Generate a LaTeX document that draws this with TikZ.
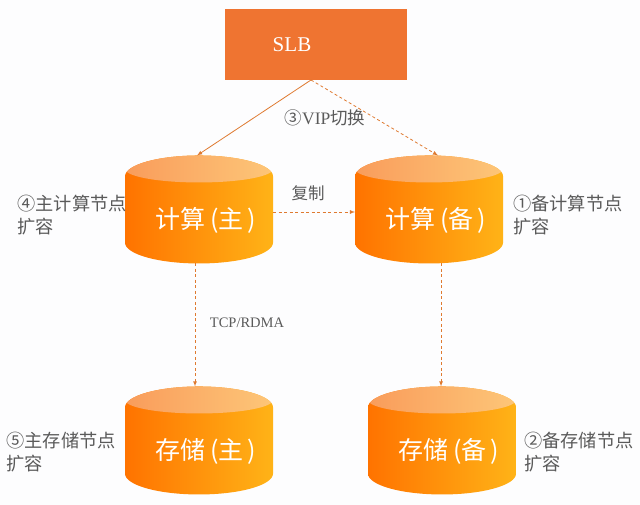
\documentclass[tikz,border=0pt]{standalone}
\usepackage{fontspec}
\setmainfont{Liberation Serif}
\newfontfamily\cjk{Noto Sans CJK SC}
\usepackage{xcolor}
\usetikzlibrary{positioning,shapes.geometric}
\definecolor{bodyleft}{HTML}{FF7300}
\definecolor{bodyright}{HTML}{FFB317}
\definecolor{capleft}{HTML}{F99C5B}
\definecolor{capright}{HTML}{FDC678}
\definecolor{slbfill}{HTML}{EF7431}
\definecolor{linkline}{HTML}{DF7A30}
\definecolor{notegray}{HTML}{5A5A5A}
\definecolor{pagebg}{HTML}{FDFDFE}

\begin{document}
\begin{tikzpicture}[
		x=1pt, y=1pt,
		cyl/.style={cylinder, shape border rotate=90, aspect=0.365, draw=none, outer sep=0pt, inner sep=0pt,
			minimum width=148pt, minimum height=108pt, text=white, font=\cjk\fontsize{25}{28}\selectfont,
			path picture={
				\shade[left color=bodyleft, right color=bodyright] (path picture bounding box.south west) rectangle (path picture bounding box.north east);
				\shade[left color=capleft, right color=capright] ([yshift=-13.5pt]path picture bounding box.north) ellipse (74pt and 13.5pt);
			}},
		balancer/.style={rectangle, fill=slbfill, minimum width=182pt, minimum height=71pt, outer sep=0pt, text=white, font=\fontsize{21}{24}\selectfont},
		note/.style={align=left, inner sep=0pt, text=notegray, font=\cjk\fontsize{18.2}{22.5}\selectfont},
		tag/.style={inner sep=0pt, text=notegray},
		solidlink/.style={-latex, draw=linkline, line width=0.8pt},
		dashlink/.style={-latex, draw=linkline, line width=0.8pt, dash pattern=on 3pt off 2.5pt},
		]
		\useasboundingbox[fill=pagebg] (0,0) rectangle (640,505);

		%Main Nodes
		\node[balancer]	(slb)			at (316,460.5)				{\hspace{-48pt}SLB};
		\node[cyl]		(calc_main)		at (199,285)				{\raisebox{-9pt}{\hspace{14pt}计算\,(主\,)}};
		\node[cyl]		(calc_backup)	[right=82pt of calc_main]	{\raisebox{-9pt}{\hspace{14pt}计算\,(备\,)}};
		\node[cyl]		(store_main)	[below=123pt of calc_main]	{\raisebox{-9pt}{\hspace{14pt}存储\,(主\,)}};
		\node[cyl]		(store_backup)	[right=95pt of store_main]	{\raisebox{-9pt}{\hspace{14pt}存储\,(备\,)}};

		%Main Lines
		\coordinate (slb_out) at ([xshift=-5pt]slb.south);
		\coordinate (main_in) at ([xshift=-2pt]calc_main.north);
		\coordinate (backup_in) at ([xshift=9pt]calc_backup.north);
		\coordinate (main_down) at ([xshift=-4pt]calc_main.south);
		\coordinate (backup_down) at ([xshift=12pt]calc_backup.south);
		\coordinate (main_right) at ([yshift=8pt]calc_main.east);
		\coordinate (backup_left) at ([yshift=8pt]calc_backup.west);
		\draw[solidlink]	(slb_out) -- (main_in);
		\draw[dashlink]		(slb_out) -- (backup_in);
		\draw[dashlink]		(main_right) -- (backup_left);
		\draw[dashlink]		(main_down) -- (main_down |- store_main.north);
		\draw[dashlink]		(backup_down) -- (backup_down |- store_backup.north);

		%Link Labels
		\node[tag, font=\fontsize{17.5}{20}\selectfont]	(vip)	at (325,387)	{{\cjk ③}VIP{\cjk 切换}};
		\node[tag, font=\cjk\fontsize{16.5}{20}\selectfont]	(copy)	at (308,312)	{复制};
		\node[tag, font=\fontsize{14.5}{18}\selectfont]	(tcp)	at (247,182)	{TCP/RDMA};

		%Notes
		\node[note]	(calc_main_note)	[left=-2pt of calc_main, yshift=5pt]		{④主计算节点\\扩容};
		\node[note]	(calc_backup_note)	[right=10pt of calc_backup, yshift=5pt]		{①备计算节点\\扩容};
		\node[note]	(store_main_note)	[left=9pt of store_main, yshift=-1pt]		{⑤主存储节点\\扩容};
		\node[note]	(store_backup_note)	[right=8pt of store_backup, yshift=-1pt]	{②备存储节点\\扩容};

	\end{tikzpicture}
\end{document}
